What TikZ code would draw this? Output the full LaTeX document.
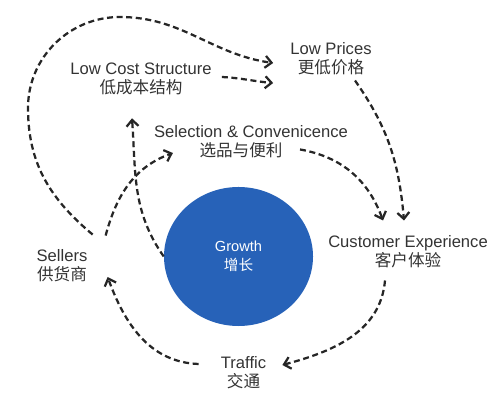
\documentclass[tikz,border=0pt]{standalone}
\usepackage{fontspec}
\setmainfont{Liberation Sans}
\newfontfamily\cjkfont{Noto Sans CJK SC}
\usetikzlibrary{arrows.meta,calc,shapes.geometric}

\definecolor{growthblue}{HTML}{2762B8}
\definecolor{textgray}{HTML}{333333}
\newcommand{\zh}[1]{{\cjkfont #1}}

\begin{document}
\begin{tikzpicture}[
    x=0.25mm, y=0.25mm,
    stage/.style={text=textgray, align=center, inner sep=0pt, font=\fontsize{11.8}{13.5}\selectfont},
    hub/.style={ellipse, fill=growthblue, text=white, minimum width=37.25mm, minimum height=34.75mm, inner sep=0pt, align=center, font=\fontsize{10.4}{13.5}\selectfont},
    flow/.style={-{Straight Barb[length=1.6mm,width=3mm]}, line width=1.6pt, dash pattern=on 1.5mm off 0.9mm, draw=black!85}
]
\useasboundingbox (0,0) rectangle (499,404);

\node[stage] (lowcost) at (141,325) {Low Cost Structure\\\zh{低成本结构}};
\node[stage] (lowprice) at (331,345) {Low Prices\\\zh{更低价格}};
\node[stage] (select) at (251,262) {Selection \& Convenicence\\\zh{选品与便利}\hspace*{5mm}};
\node[hub] (growth) at (238.5,147.5) {Growth\\\zh{增长}};
\node[stage] (custexp) at (408,152) {Customer Experience\\\zh{客户体验}};
\node[stage] (sellers) at (62,138) {Sellers\\\zh{供货商}};
\node[stage] (traffic) at (243.5,31) {Traffic\\\zh{交通}};

% bends of the outer loop
\coordinate (loopleft) at (28,296);
\coordinate (looptop) at (120,387);

\draw[flow] ($(sellers.north east)+(5,15)$) to[out=140,in=-90] (loopleft)
    to[out=90,in=180] (looptop) to[out=0,in=172] ($(lowprice.west)+(-17,-4)$);
\draw[flow] ($(lowcost.east)+(10,2)$) to[out=-3,in=175] ($(lowprice.west)+(-17,-24)$);
\draw[flow] ($(lowprice.south)+(24,-5)$) to[out=-55,in=95] ($(custexp.north)+(-4,15)$);
\draw[flow] ($(select.south)+(49,9)$) to[out=-10,in=110] ($(custexp.north)+(-25,15)$);
\draw[flow] ($(custexp.south)+(-23,-12)$) to[out=-95,in=15] ($(traffic.east)+(16,8)$);
\draw[flow] ($(traffic.west)+(-22,9)$) to[out=178,in=-70] ($(sellers.east)+(20,-11)$);
\draw[flow] ($(sellers.north east)+(18,14)$) to[out=75,in=200] ($(select.west)+(19,-11)$);
\draw[flow] (growth.west) to[out=125,in=-86] ($(lowcost.south)+(-9,-23)$);

\end{tikzpicture}
\end{document}
